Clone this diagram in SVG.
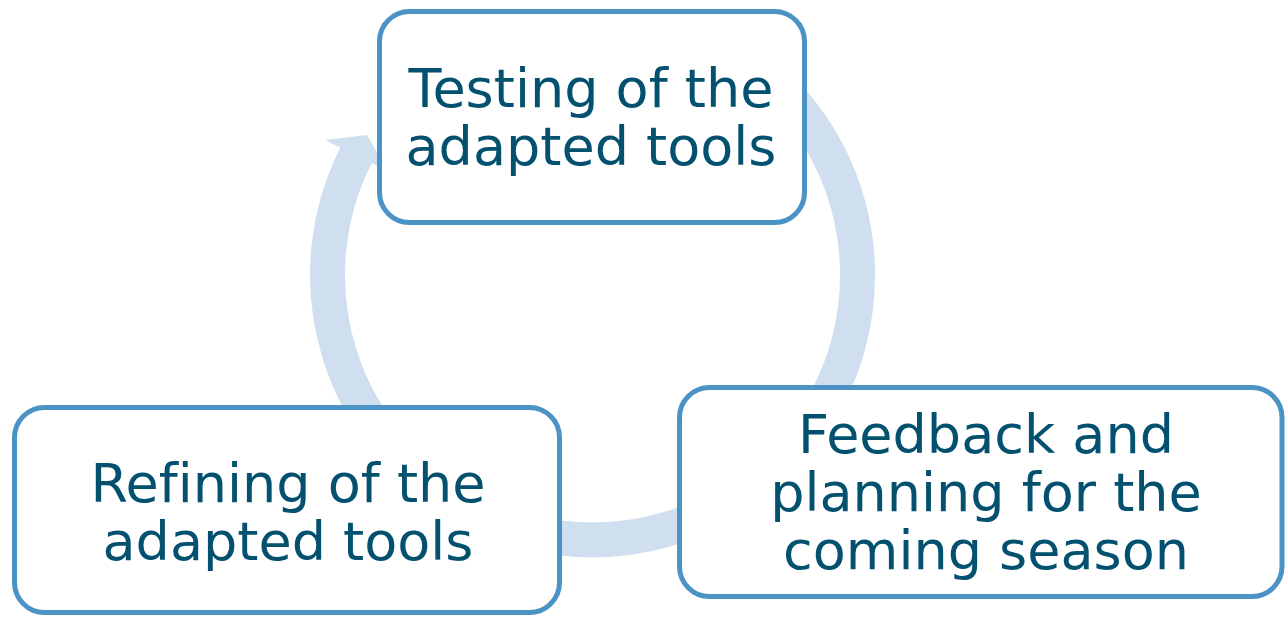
<svg xmlns="http://www.w3.org/2000/svg" width="1286" height="618" viewBox="0 0 1286 618">
<style>
.box{fill:#ffffff;stroke:#4b92c5;stroke-width:5}
.lbl{font-family:"DejaVu Sans",Verdana,sans-serif;font-size:54px;fill:#03506f;text-anchor:middle;font-variant-ligatures:none}
.ring{fill:none;stroke:#d0dfef;stroke-width:35}
.head{fill:#d0dfef}
</style>
<rect width="1286" height="618" fill="#ffffff"/>
<g id="connectors">
<path class="ring" d="M 725 45.5 A 265 265 0 1 1 356.4 154.7"/>
<polygon class="head" points="325,140 367,135 388,171"/>
</g>
<g id="node-testing">
<rect class="box" x="379.5" y="11.5" width="425" height="211" rx="30"/>
<text class="lbl" x="591" y="107">Testing of the</text>
<text class="lbl" x="591" y="165">adapted tools</text>
</g>
<g id="node-feedback">
<rect class="box" x="679.5" y="387.5" width="602.5" height="209" rx="30"/>
<text class="lbl" x="986" y="453">Feedback and</text>
<text class="lbl" x="986" y="511">planning for the</text>
<text class="lbl" x="986" y="569">coming season</text>
</g>
<g id="node-refining">
<rect class="box" x="14.5" y="407.5" width="545" height="205" rx="30"/>
<text class="lbl" x="288" y="502">Refining of the</text>
<text class="lbl" x="288" y="560">adapted tools</text>
</g>
</svg>
